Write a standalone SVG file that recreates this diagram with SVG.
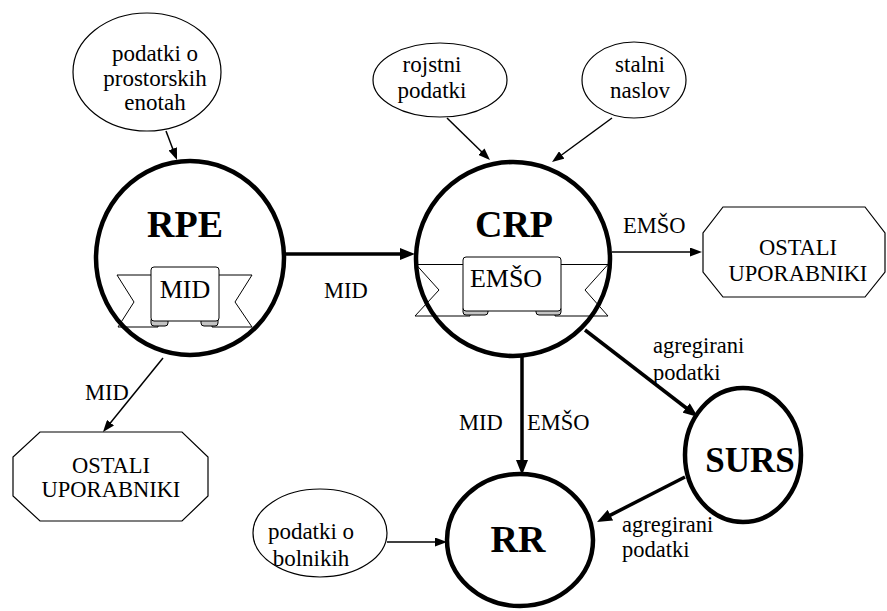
<svg xmlns="http://www.w3.org/2000/svg" width="887" height="611" viewBox="0 0 887 611">
<style>
.big{font-family:Liberation Serif,serif;font-size:38px;font-weight:bold;text-anchor:middle}
.sm{font-family:Liberation Serif,serif;font-size:23px;text-anchor:middle}
.lb{font-family:Liberation Serif,serif;font-size:22.5px}
.bn{font-family:Liberation Serif,serif;font-size:26px;text-anchor:middle}
.main{fill:#fff;stroke:#000;stroke-width:4.5}
.src{fill:#fff;stroke:#000;stroke-width:1.2}
.oct{fill:#fff;stroke:#000;stroke-width:1.2}
.tail{fill:none;stroke:#000;stroke-width:1}
.curl{fill:#c4c4c4;stroke:#000;stroke-width:1}
.panel{fill:#fff;stroke:#000;stroke-width:1}
.thin{stroke:#000;stroke-width:1.5;fill:none}
.thick{stroke:#000;stroke-width:3.5;fill:none}
</style>
<defs>
<marker id="ah" viewBox="0 0 12 9" refX="1" refY="4.5" markerWidth="12" markerHeight="9" orient="auto" markerUnits="userSpaceOnUse"><path d="M0,0 L12,4.5 L0,9 z" fill="#000"/></marker>
<marker id="ahb" viewBox="0 0 15 12" refX="1" refY="6" markerWidth="15" markerHeight="12" orient="auto" markerUnits="userSpaceOnUse"><path d="M0,0 L15,6 L0,12 z" fill="#000"/></marker>
</defs>

<g id="src-prostorske">
<ellipse class="src" cx="147" cy="72" rx="74" ry="59"/>
<text class="sm" font-family="Liberation Serif" x="155" y="61">podatki o</text>
<text class="sm" font-family="Liberation Serif" x="155" y="86">prostorskih</text>
<text class="sm" font-family="Liberation Serif" x="155" y="110">enotah</text>
</g>
<g id="src-rojstni">
<ellipse class="src" cx="440" cy="80" rx="67" ry="37"/>
<text class="sm" font-family="Liberation Serif" x="432" y="72">rojstni</text>
<text class="sm" font-family="Liberation Serif" x="432" y="98">podatki</text>
</g>
<g id="src-naslov">
<ellipse class="src" cx="634" cy="80" rx="52" ry="38"/>
<text class="sm" font-family="Liberation Serif" x="640" y="72">stalni</text>
<text class="sm" font-family="Liberation Serif" x="640" y="98">naslov</text>
</g>
<g id="src-bolniki">
<ellipse class="src" cx="320" cy="533" rx="67" ry="44"/>
<text class="sm" font-family="Liberation Serif" x="311" y="539">podatki o</text>
<text class="sm" font-family="Liberation Serif" x="311" y="566">bolnikih</text>
</g>

<g id="RPE">
<ellipse class="main" cx="190" cy="258" rx="94" ry="97"/>
<text class="big" font-family="Liberation Serif" x="185" y="237">RPE</text>
<path class="tail" d="M117,275 H158 V327 H118 L134,302 Z"/>
<path class="tail" d="M252,275 H212 V327 H252 L235,302 Z"/>
<rect class="curl" x="151" y="317" width="17" height="9" rx="3"/>
<rect class="curl" x="201" y="317" width="17" height="9" rx="3"/>
<rect class="panel" x="151" y="267" width="68" height="54" rx="3"/>
<text class="bn" font-family="Liberation Serif" x="185" y="298">MID</text>
</g>

<g id="CRP">
<ellipse class="main" cx="513" cy="259" rx="97" ry="97"/>
<text class="big" font-family="Liberation Serif" x="514" y="237">CRP</text>
<path class="tail" d="M416,264.5 H470 V316 H415 L439,290 Z"/>
<path class="tail" d="M608,264.5 H555 V316 H608 L585,290 Z"/>
<rect class="curl" x="463" y="306" width="25" height="9" rx="3"/>
<rect class="curl" x="536" y="306" width="25" height="9" rx="3"/>
<rect class="panel" x="463" y="257" width="98" height="54" rx="3"/>
<text class="bn" font-family="Liberation Serif" x="506" y="287">EMŠO</text>
</g>

<g id="SURS">
<ellipse class="main" cx="743" cy="455" rx="58" ry="67"/>
<text class="big" font-family="Liberation Serif" x="750" y="472" style="font-size:35px">SURS</text>
</g>

<g id="RR">
<ellipse class="main" cx="520" cy="540" rx="73" ry="66"/>
<text class="big" font-family="Liberation Serif" x="518" y="552">RR</text>
</g>

<g id="ostali-desno">
<polygon class="oct" points="723,207 865,207 885,233 885,272 865,297 723,297 703,272 703,233"/>
<text class="sm" font-family="Liberation Serif" style="font-size:22.5px" x="798" y="255">OSTALI</text>
<text class="sm" font-family="Liberation Serif" style="font-size:22.5px" x="798" y="281">UPORABNIKI</text>
</g>
<g id="ostali-levo">
<polygon class="oct" points="40,432 182,432 208,457 208,496 182,521 40,521 13,496 13,457"/>
<text class="sm" font-family="Liberation Serif" style="font-size:22.5px" x="111" y="473">OSTALI</text>
<text class="sm" font-family="Liberation Serif" style="font-size:22.5px" x="111" y="497">UPORABNIKI</text>
</g>

<g id="connectors">
<line class="thin" x1="166" y1="131" x2="173.1" y2="149.7" marker-end="url(#ah)"/>
<line class="thin" x1="447" y1="118" x2="482.1" y2="152.3" marker-end="url(#ah)"/>
<line class="thin" x1="612" y1="118" x2="560.9" y2="155.5" marker-end="url(#ah)"/>
<line class="thick" x1="286" y1="254" x2="401" y2="254" marker-end="url(#ahb)"/>
<line class="thin" x1="612" y1="252" x2="691" y2="252" marker-end="url(#ah)"/>
<line class="thin" x1="163" y1="358" x2="109.9" y2="423.5" marker-end="url(#ah)"/>
<line class="thick" x1="522" y1="357" x2="522" y2="461" marker-end="url(#ahb)"/>
<line class="thick" x1="585" y1="330" x2="686.9" y2="408.5" marker-end="url(#ahb)"/>
<line class="thick" x1="685" y1="477" x2="609.5" y2="515.6" marker-end="url(#ahb)"/>
<line class="thin" x1="387" y1="542" x2="436" y2="542" marker-end="url(#ah)"/>
<text class="lb" font-family="Liberation Serif" x="324" y="298">MID</text>
<text class="lb" font-family="Liberation Serif" x="623" y="233">EMŠO</text>
<text class="lb" font-family="Liberation Serif" x="85" y="400">MID</text>
<text class="lb" font-family="Liberation Serif" x="459" y="430">MID</text>
<text class="lb" font-family="Liberation Serif" x="527" y="430">EMŠO</text>
<text class="lb" font-family="Liberation Serif" x="653" y="353">agregirani</text>
<text class="lb" font-family="Liberation Serif" x="653" y="380">podatki</text>
<text class="lb" font-family="Liberation Serif" x="622" y="532">agregirani</text>
<text class="lb" font-family="Liberation Serif" x="622" y="557">podatki</text>
</g>
</svg>
